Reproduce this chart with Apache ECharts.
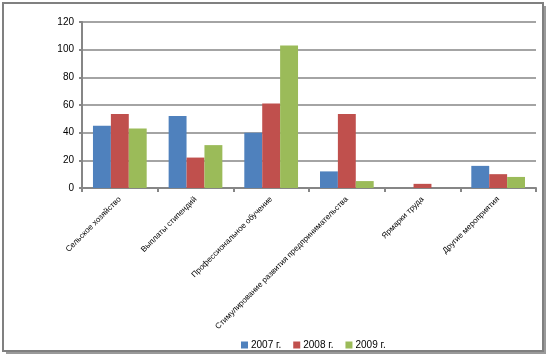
<!DOCTYPE html>
<html><head><meta charset="utf-8">
<script src="https://cdn.jsdelivr.net/npm/echarts@6/dist/echarts.min.js"></script>
<style>html,body{margin:0;padding:0;background:#fff}#c{width:549px;height:357px}</style>
</head><body><div id="c"></div>
<script>
var categories = ["Сельское хозяйство", "Выплаты стипендий", "Профессиональное обучение", "Стимулирование развития предпринимательства", "Ярмарки труда", "Другие мероприятия"];
var seriesNames = ["2007 г.", "2008 г.", "2009 г."];
var values2007 = [45, 52, 40, 12, 0, 16];
var values2008 = [53.5, 22, 61, 53.5, 3, 10];
var values2009 = [43, 31, 103, 5, 0, 8];
var yTicks = [0, 20, 40, 60, 80, 100, 120];

var chart = echarts.init(document.getElementById('c'), null, {renderer: 'canvas'});
var colors = ['#4F81BD', '#C0504D', '#9BBB59'];
var dataSets = [values2007, values2008, values2009];
chart.setOption({
  animation: false,
  color: colors,
  textStyle: {fontFamily: 'Liberation Sans, Arial, sans-serif'},
  graphic: [
    {type: 'rect', shape: {x: 6, y: 6, width: 540, height: 348}, style: {fill: '#9a9a9a'}, z: -2},
    {type: 'rect', shape: {x: 3, y: 3, width: 540, height: 348}, style: {fill: '#fff', stroke: '#808080', lineWidth: 2}, z: -1}
  ],
  legend: {
    data: seriesNames,
    left: 236,
    top: 335,
    itemWidth: 7, itemHeight: 7, itemGap: 12,
    icon: 'rect',
    textStyle: {fontSize: 10, color: '#000', fontFamily: 'Liberation Sans, Arial, sans-serif', padding: [0, 0, 0, -2]}
  },
  grid: {left: 82, right: 13, top: 22, bottom: 169, containLabel: false},
  xAxis: {
    type: 'category',
    data: categories,
    axisLine: {lineStyle: {color: '#868686', width: 2}},
    axisTick: {show: true, alignWithLabel: false, length: 4, lineStyle: {color: '#868686', width: 2}},
    axisLabel: {rotate: 45, fontSize: 8, color: '#000', margin: 10, interval: 0}
  },
  yAxis: {
    type: 'value',
    min: yTicks[0], max: yTicks[yTicks.length - 1], interval: 20,
    axisLine: {show: true, lineStyle: {color: '#868686', width: 2}},
    axisTick: {show: true, length: 3, lineStyle: {color: '#868686', width: 2}},
    axisLabel: {fontSize: 10, color: '#000', margin: 8},
    splitLine: {lineStyle: {color: '#868686', width: 1.5}}
  },
  series: seriesNames.map(function (n, i) {
    return {name: n, type: 'bar', data: dataSets[i], barGap: '0%', barCategoryGap: '29%'};
  })
});
</script></body></html>
